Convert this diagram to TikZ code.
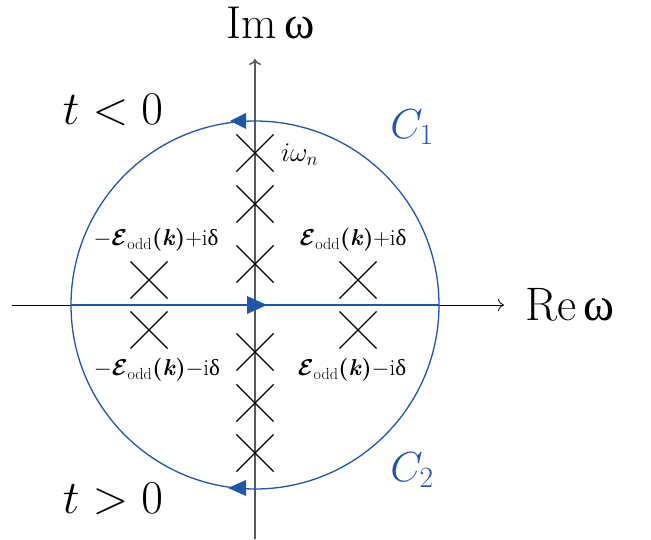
\RequirePackage{fix-cm}
\documentclass[tikz,border=0pt]{standalone}
\usepackage{amsmath,bm}
\usepackage{fontspec}
\usetikzlibrary{shapes.misc,arrows.meta}
\newfontfamily\libserif{Liberation Serif}
\definecolor{cblue}{HTML}{2155A8}
\definecolor{axgray}{HTML}{5A5A5A}
\newcommand{\Eodd}{$\bm{\mathcal{E}}$\textsubscript{odd}\textbf{(\textit{k})}}
\newcommand{\dlt}{{\libserif δ}}
\tikzset{
  pole/.style={cross out, draw=black, line width=1.1pt, minimum size=36pt, inner sep=0pt},
  elabel/.style={font=\fontsize{23}{27}\selectfont, inner sep=0pt},
  biglabel/.style={font=\fontsize{47}{52}\selectfont, inner sep=0pt},
  clabel/.style={font=\fontsize{42}{48}\selectfont, text=cblue, inner sep=0pt},
  contour/.style={draw=cblue, line width=1.3pt},
  tri/.style={fill=cblue},
}
\begin{document}
\begin{tikzpicture}[x=1pt,y=1pt]
\useasboundingbox (0,0) rectangle (651,539);
\coordinate (O) at (255,234);
\coordinate (vb) at (255,0);
\coordinate (vt) at (255,480);
\coordinate (hl) at (12,234);
\coordinate (hr) at (504,234);
\coordinate (dl) at (71,234);
\coordinate (dr) at (439,234);
% axes
\draw[black, line width=0.8pt, -{To[length=6pt,width=12pt]}] (hl) -- (hr);
\draw[axgray, line width=1.6pt, -{To[length=6pt,width=12pt]}] (vb) -- (vt);
% contour
\draw[contour] (O) circle (184);
\draw[contour] (dl) -- (dr);
\fill[tri] (230,418) -- (246,426) -- (246,410) -- cycle;
\fill[tri] (267,234) -- (247,243) -- (247,225) -- cycle;
\fill[tri] (228,51) -- (246,59) -- (246,43) -- cycle;
% poles on imaginary axis
\node[pole] (p1) at (255,386) {};
\node[pole] (p2) at (255,335) {};
\node[pole] (p3) at (255,275) {};
\node[pole] (p4) at (255,187) {};
\node[pole] (p5) at (255,136) {};
\node[pole] (p6) at (255,86) {};
% quasiparticle poles
\node[pole] (q1) at (149,259) {};
\node[pole] (q2) at (149,209) {};
\node[pole] (q3) at (358,259) {};
\node[pole] (q4) at (358,209) {};
% labels
\node[elabel] (l1) at (156,299) {$-$\Eodd+i\dlt};
\node[elabel] (l2) at (353,299) {\Eodd+i\dlt};
\node[elabel] (l3) at (157,169) {$-$\Eodd$-$i\dlt};
\node[elabel] (l4) at (352,169) {\Eodd$-$i\dlt};
\node[anchor=west, font=\fontsize{27}{30}\selectfont, inner sep=0pt] (iw) at (281,384) {$i\omega_n$};
\node[biglabel] (tl) at (113,429) {$t<0$};
\node[biglabel] (tg) at (113,40) {$t>0$};
\node[clabel] (c1) at (412,412) {$C_1$};
\node[clabel] (c2) at (412,69) {$C_2$};
\node[biglabel, font=\fontsize{46}{52}\selectfont] (im) at (271,516) {Im\,{\libserif ω}};
\node[biglabel, font=\fontsize{47}{54}\selectfont] (re) at (570,234) {Re\,{\libserif ω}};
\end{tikzpicture}
\end{document}
